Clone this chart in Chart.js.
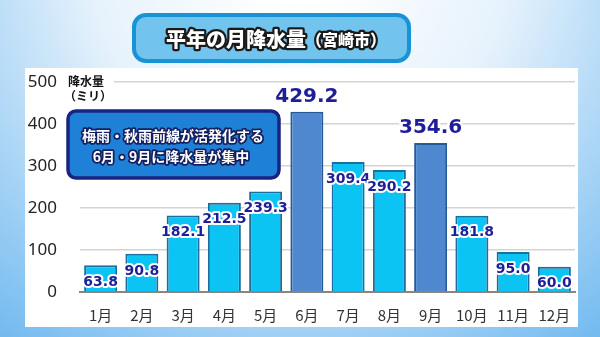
<!DOCTYPE html>
<html><head><meta charset="utf-8">
<script src="https://cdn.jsdelivr.net/npm/chart.js@4"></script>
<style>html,body{margin:0;padding:0;overflow:hidden;background:#fff}canvas{display:block}</style>
</head><body>
<canvas id="c" width="600" height="337"></canvas>
<script>
const months = ["1月","2月","3月","4月","5月","6月","7月","8月","9月","10月","11月","12月"];
const rainfall = [63.8, 90.8, 182.1, 212.5, 239.3, 429.2, 309.4, 290.2, 354.6, 181.8, 95.0, 60.0];
const highlightMonths = ["6月","9月"];
const yTicks = [0, 100, 200, 300, 400, 500];
const titleMain = "平年の月降水量";
const titleSub = "（宮崎市）";
const noteLines = ["梅雨・秋雨前線が活発化する", "6月・9月に降水量が集中"];
const yTitleLines = ["降水量", "（ミリ）"];

const isHi = m => highlightMonths.includes(m);
const normalFill = "#0cc4f4", normalBorder = "#1c6e9e";
const hiFill = "#4f88cf", hiBorder = "#265a96";

function roundRect(ctx, x, y, w, h, r) {
  ctx.beginPath();
  ctx.moveTo(x + r, y);
  ctx.arcTo(x + w, y, x + w, y + h, r);
  ctx.arcTo(x + w, y + h, x, y + h, r);
  ctx.arcTo(x, y + h, x, y, r);
  ctx.arcTo(x, y, x + w, y, r);
  ctx.closePath();
}

const decor = {
  id: "decor",
  beforeDraw(chart) {
    const ctx = chart.ctx;
    ctx.save();
    const g = ctx.createRadialGradient(300, -40, 40, 300, -40, 520);
    g.addColorStop(0, "#ffffff");
    g.addColorStop(0.35, "#e6f2fc");
    g.addColorStop(1, "#62b2ee");
    ctx.fillStyle = g;
    ctx.fillRect(0, 0, 600, 337);
    ctx.fillStyle = "#ffffff";
    ctx.fillRect(25, 68, 553, 259);
    // title box
    roundRect(ctx, 134, 15, 275, 46, 12);
    ctx.fillStyle = "#72c3ee";
    ctx.fill();
    ctx.lineWidth = 4;
    ctx.strokeStyle = "#1893d6";
    ctx.stroke();
    ctx.textBaseline = "middle";
    ctx.lineJoin = "round";
    ctx.font = "900 20px 'Noto Sans CJK JP'";
    const w1 = ctx.measureText(titleMain).width;
    ctx.font = "900 16px 'Noto Sans CJK JP'";
    const w2 = ctx.measureText(titleSub).width;
    let x0 = 276 - (w1 + w2) / 2;
    ctx.textAlign = "left";
    ctx.font = "900 20px 'Noto Sans CJK JP'";
    ctx.lineWidth = 4.5; ctx.strokeStyle = "#1a1a1a";
    ctx.strokeText(titleMain, x0, 39);
    ctx.fillStyle = "#ffffff";
    ctx.fillText(titleMain, x0, 39);
    ctx.font = "900 16px 'Noto Sans CJK JP'";
    ctx.strokeText(titleSub, x0 + w1, 40);
    ctx.fillText(titleSub, x0 + w1, 40);
    ctx.restore();
  },
  afterDatasetsDraw(chart) {
    const ctx = chart.ctx;
    const meta = chart.getDatasetMeta(0);
    ctx.save();
    ctx.textAlign = "center";
    ctx.textBaseline = "middle";
    ctx.lineJoin = "round";
    meta.data.forEach((bar, i) => {
      const v = rainfall[i].toFixed(1);
      const hi = isHi(months[i]);
      ctx.font = hi ? "bold 20px 'DejaVu Sans'" : "bold 14px 'DejaVu Sans'";
      const y = hi ? bar.y - 15 : bar.y + 17;
      ctx.lineWidth = hi ? 5 : 4;
      ctx.strokeStyle = "#ffffff";
      ctx.strokeText(v, bar.x, y);
      ctx.fillStyle = "#1e1e98";
      ctx.fillText(v, bar.x, y);
    });
    ctx.restore();
  },
  afterDraw(chart) {
    const ctx = chart.ctx;
    ctx.save();
    // y-axis title
    ctx.fillStyle = "#ffffff";
    ctx.fillRect(62, 74, 52, 30);
    ctx.fillStyle = "#111";
    ctx.textAlign = "center";
    ctx.textBaseline = "middle";
    ctx.font = "bold 12px 'Noto Sans CJK JP'";
    ctx.fillText(yTitleLines[0], 86, 81);
    ctx.fillText(yTitleLines[1], 88, 96);
    // note box
    roundRect(ctx, 68, 111, 211, 67, 8);
    ctx.fillStyle = "#1f80d8";
    ctx.fill();
    ctx.lineWidth = 3.5;
    ctx.strokeStyle = "#1a2480";
    ctx.stroke();
    ctx.font = "bold 14px 'Noto Sans CJK JP'";
    ctx.lineJoin = "round";
    ctx.lineWidth = 3.5;
    ctx.strokeStyle = "#142060";
    ctx.fillStyle = "#ffffff";
    ctx.strokeText(noteLines[0], 173, 136);
    ctx.fillText(noteLines[0], 173, 136);
    ctx.strokeText(noteLines[1], 171, 157);
    ctx.fillText(noteLines[1], 171, 157);
    ctx.restore();
  }
};

new Chart(document.getElementById("c"), {
  type: "bar",
  data: {
    labels: months,
    datasets: [{
      data: rainfall,
      backgroundColor: months.map(m => isHi(m) ? hiFill : normalFill),
      borderColor: months.map(m => isHi(m) ? hiBorder : normalBorder),
      borderWidth: 2,
      borderSkipped: "bottom",
      barPercentage: 0.8,
      categoryPercentage: 1
    }]
  },
  options: {
    responsive: false,
    devicePixelRatio: 1,
    animation: false,
    layout: { padding: { top: 82, right: 25, left: 0, bottom: 0 } },
    plugins: { legend: { display: false }, tooltip: { enabled: false }, title: { display: false } },
    scales: {
      y: {
        min: 0, max: 500,
        afterBuildTicks: s => { s.ticks = yTicks.map(v => ({ value: v })); },
        afterFit: s => { s.width = 80; },
        ticks: { font: { family: "'Noto Sans'", size: 17 }, color: "#222", padding: 23 },
        grid: { color: c => c.tick && c.tick.value === 0 ? "rgba(0,0,0,0)" : "#d4d4d4", lineWidth: 1.5, drawTicks: false },
        border: { display: false }
      },
      x: {
        afterFit: s => { s.height = 45; },
        ticks: { font: { family: "'Noto Sans CJK JP'", size: 15 }, color: "#333", padding: 6 },
        grid: { display: false },
        border: { color: "#8a8580", width: 2 }
      }
    }
  },
  plugins: [decor]
});
</script>
</body></html>
